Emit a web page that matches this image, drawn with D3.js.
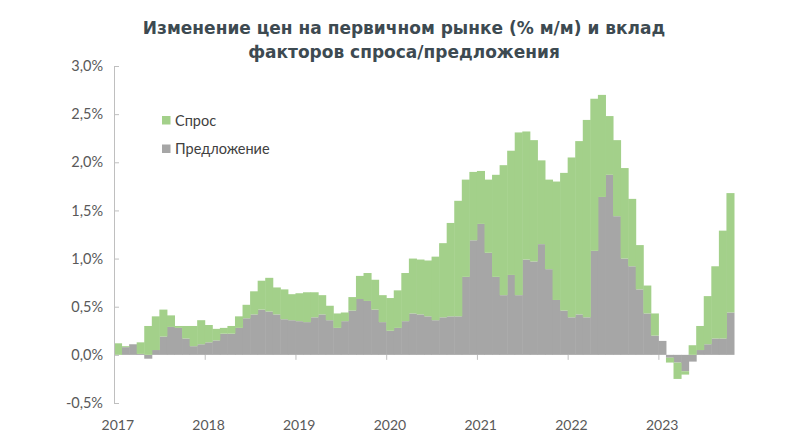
<!DOCTYPE html>
<html><head><meta charset="utf-8">
<script src="https://cdn.jsdelivr.net/npm/d3@7/dist/d3.min.js"></script>
<style>body{margin:0;background:#fff}</style>
</head><body>
<svg id="c" width="800" height="448"></svg>
<script>
// Monthly data, Jan 2017 – Oct 2023 (% m/m contributions)
const titleLines = ["Изменение цен на первичном рынке (% м/м) и вклад", "факторов спроса/предложения"];
const seriesNames = ["Спрос", "Предложение"];
const yearLabels = ["2017","2018","2019","2020","2021","2022","2023"];
const yTicks = [-0.5, 0, 0.5, 1.0, 1.5, 2.0, 2.5, 3.0];

const supply = [
  0.00, 0.08, 0.11, 0.01, -0.04, 0.05, 0.19, 0.29, 0.28, 0.17, 0.09, 0.11,
  0.13, 0.15, 0.22, 0.22, 0.28, 0.38, 0.42, 0.47, 0.45, 0.42, 0.37, 0.36,
  0.35, 0.34, 0.39, 0.42, 0.36, 0.28, 0.35, 0.46, 0.58, 0.56, 0.47, 0.34,
  0.25, 0.28, 0.35, 0.43, 0.42, 0.40, 0.36, 0.39, 0.40, 0.40, 0.81, 1.19,
  1.36, 1.06, 0.81, 0.62, 0.83, 0.62, 0.99, 0.97, 1.15, 0.89, 0.57, 0.46,
  0.39, 0.42, 0.39, 1.08, 1.64, 1.87, 1.44, 1.00, 0.92, 0.68, 0.43, 0.20,
  0.145, -0.03, -0.08, -0.17, -0.07, 0.05, 0.11, 0.17, 0.17, 0.44
];
const demand = [
  0.12, 0.01, 0.00, 0.12, 0.30, 0.35, 0.28, 0.12, 0.02, 0.13, 0.21, 0.25,
  0.18, 0.12, 0.06, 0.08, 0.12, 0.14, 0.24, 0.30, 0.35, 0.28, 0.31, 0.27,
  0.29, 0.31, 0.26, 0.20, 0.15, 0.15, 0.09, 0.14, 0.24, 0.29, 0.31, 0.28,
  0.34, 0.39, 0.50, 0.57, 0.57, 0.58, 0.66, 0.77, 0.97, 1.20, 1.01, 0.71,
  0.55, 0.76, 1.06, 1.35, 1.29, 1.69, 1.33, 1.26, 0.87, 0.93, 1.23, 1.43,
  1.66, 1.80, 2.05, 1.58, 1.06, 0.61, 0.79, 0.94, 0.70, 0.46, 0.29, 0.23,
  0.00, -0.05, -0.17, -0.035, 0.10, 0.25, 0.50, 0.75, 1.12, 1.24
];

const months = d3.timeMonth.range(new Date(2017, 0, 1), new Date(2023, 10, 1));
const rows = months.map((m, i) => ({month: m, supply: supply[i], demand: demand[i]}));

const colors = {demand: "#a3d08a", supply: "#a6a6a6"};
const svg = d3.select("#c");

const x = d3.scaleBand().domain(months).range([114, 734]).padding(0);
const y = d3.scaleLinear().domain([-0.5, 3.0]).range([403, 66]);

const stack = d3.stack().keys(["supply", "demand"]).offset(d3.stackOffsetDiverging)(rows);

svg.append("g").selectAll("g").data(stack).join("g")
  .attr("fill", d => colors[d.key])
  .selectAll("rect").data(d => d).join("rect")
  .attr("x", d => x(d.data.month))
  .attr("width", x.bandwidth() + 0.5)
  .attr("y", d => y(Math.max(d[0], d[1])))
  .attr("height", d => Math.abs(y(d[0]) - y(d[1])));

// Y axis
const fmt = v => (v < 0 ? "-" : "") + Math.abs(v).toFixed(1).replace(".", ",") + "%";
const yAxis = svg.append("g").attr("transform", "translate(114,0)")
  .call(d3.axisLeft(y).tickValues(yTicks).tickFormat(fmt).tickSizeInner(-5).tickSizeOuter(0).tickPadding(11));
yAxis.select(".domain").attr("stroke", "#bfbfbf");
yAxis.selectAll(".tick line").attr("stroke", "#bfbfbf");
yAxis.selectAll("text").attr("font-family", "Lato, sans-serif").attr("font-size", 14.5).attr("fill", "#595959");

// X axis (year ticks at January)
const jan = months.filter(m => m.getMonth() === 0);
const xg = svg.append("g");
xg.selectAll("line").data(jan).join("line")
  .attr("x1", d => x(d) + 0.5).attr("x2", d => x(d) + 0.5)
  .attr("y1", y(0)).attr("y2", y(0) + 5)
  .attr("stroke", "#bfbfbf");
xg.selectAll("text").data(jan).join("text")
  .attr("x", d => x(d) + x.bandwidth() / 2)
  .attr("y", 430)
  .attr("text-anchor", "middle")
  .attr("font-family", "Lato, sans-serif").attr("font-size", 14).attr("fill", "#595959")
  .text((d, i) => yearLabels[i]);

// Title
svg.append("g").selectAll("text").data(titleLines).join("text")
  .attr("x", 404).attr("y", (d, i) => 34 + i * 24)
  .attr("text-anchor", "middle")
  .attr("font-family", "DejaVu Sans, Verdana, sans-serif").attr("font-weight", "bold")
  .attr("font-size", 17).attr("fill", "#3d4a51")
  .text(d => d);

// Legend
const leg = svg.append("g");
const legItems = [{name: seriesNames[0], key: "demand"}, {name: seriesNames[1], key: "supply"}];
leg.selectAll("rect").data(legItems).join("rect")
  .attr("x", 162).attr("y", (d, i) => 116 + i * 28.5)
  .attr("width", 8.5).attr("height", 8.5)
  .attr("fill", d => colors[d.key]);
leg.selectAll("text").data(legItems).join("text")
  .attr("x", 175).attr("y", (d, i) => 125.5 + i * 28.5)
  .attr("font-family", "Lato, sans-serif").attr("font-size", 14.5).attr("fill", "#404040")
  .text(d => d.name);
</script>
</body></html>
